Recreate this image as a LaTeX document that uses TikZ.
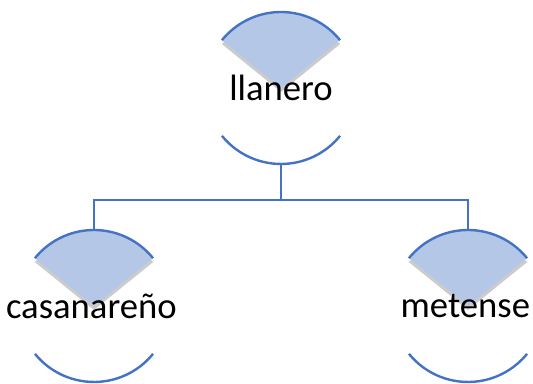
\documentclass[tikz,border=0pt]{standalone}
\usepackage{fontspec}
\setmainfont{Carlito}
\usetikzlibrary{backgrounds, shadows}

\definecolor{rimblue}{RGB}{68,114,196}
\definecolor{capblue}{RGB}{180,199,231}

\begin{document}
\begin{tikzpicture}[x=0.75pt, y=0.75pt, font=\fontsize{27.5}{32}\selectfont,
        gloss/.style={circle, minimum size=114pt, inner sep=0pt, outer sep=0pt},
        rim/.style={rimblue, line width=1.8pt},
        link/.style={rimblue, line width=1.4pt},
        wedge/.style={fill=capblue, drop shadow={shadow xshift=0pt, shadow yshift=-3pt, opacity=0.4}}]
    \useasboundingbox (0,0) rectangle (533,384);

    \node (llanero) [gloss, label=center:llanero] at (281,296) {};
    \node (casanareno) [gloss, label={[xshift=-2pt]center:casanareño}] at (94,78) {};
    \node (metense) [gloss, label={[xshift=-2pt]center:metense}] at (468,78) {};

    \begin{scope}[on background layer]
        \foreach \n in {llanero, casanareno, metense}
            \fill[wedge] (\n.center) -- ++(39:76) arc[start angle=39, end angle=141, radius=76] -- cycle;
    \end{scope}

    \foreach \n in {llanero, casanareno, metense} {
        \draw[rim] (\n.center) ++(39:76) arc[start angle=39, end angle=141, radius=76];
        \draw[rim] (\n.center) ++(219:76) arc[start angle=219, end angle=321, radius=76];
    }

    \draw[link] (llanero.south) -- ++(0,-36) coordinate (fork) -| (casanareno.north);
    \draw[link] (fork) -| (metense.north);
\end{tikzpicture}
\end{document}
